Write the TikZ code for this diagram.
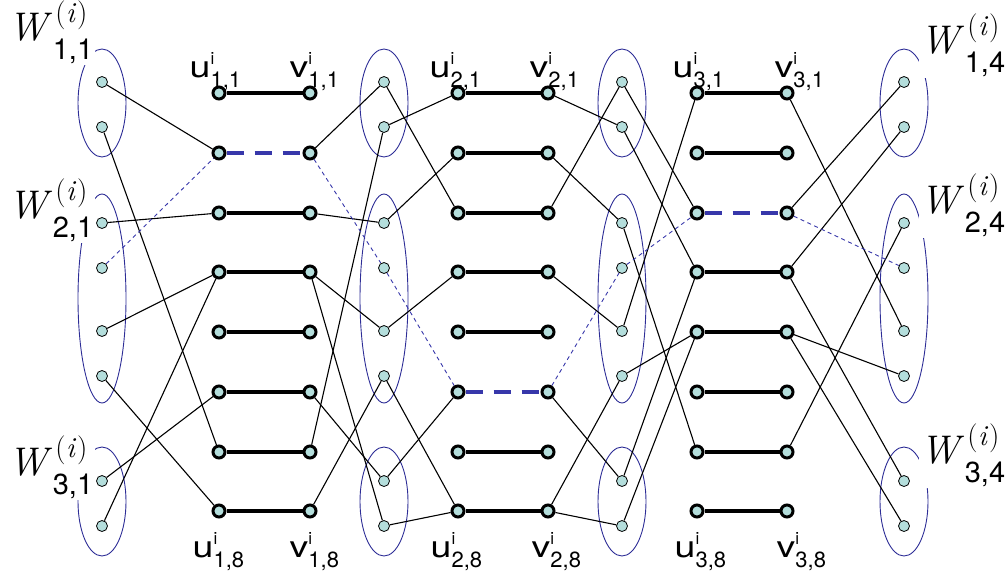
\documentclass[tikz,border=0pt]{standalone}
\usepackage{graphicx}
\usepackage{fontspec}
\newfontfamily\heros{TeX Gyre Heros}
\definecolor{dotfill}{RGB}{180,222,220}
\definecolor{setblue}{RGB}{45,45,150}
\definecolor{pathblue}{RGB}{55,55,170}
\pgfdeclarelayer{back}
\pgfdeclarelayer{labs}
\pgfdeclarelayer{edges}
\pgfsetlayers{back,labs,edges,main}
% label of a pair vertex: letter, superscript i, subscript j,k
\newcommand\uvtext[3]{\heros\fontsize{30}{30}\selectfont\scalebox{1.25}[1]{#1}\rlap{\raisebox{13pt}{\fontsize{17}{17}\selectfont i}}\raisebox{-10pt}{\fontsize{22}{22}\selectfont #2,#3}}
% label of a vertex set W
\newcommand\wtext[2]{\fontsize{40}{40}\selectfont\textit{W}\rlap{\kern2.5pt\raisebox{18pt}{\fontsize{29}{29}\selectfont(\kern0.5pt\textit{i}\kern1pt)}}\raisebox{-19pt}{\heros\fontsize{29}{29}\selectfont #1,#2}}
\tikzset{
  wdot/.style={circle, draw=black, line width=0.8pt, fill=dotfill, minimum size=11pt, inner sep=0pt},
  uvnode/.style={circle, draw=black, line width=3pt, fill=dotfill, minimum size=12pt, inner sep=0pt},
  pairedge/.style={line width=4pt, black},
  pairpath/.style={line width=4.5pt, pathblue, dash pattern=on 17pt off 11pt},
  conn/.style={line width=1.1pt, black},
  pathconn/.style={line width=0.9pt, pathblue, dash pattern=on 4pt off 3.5pt},
  wset/.style={draw=setblue, line width=0.9pt},
  wlab/.style={anchor=base west, fill=white, inner sep=1.5pt},
  uvlab/.style={anchor=base west, inner sep=0pt},
}
\begin{document}
\begin{tikzpicture}[x=1pt,y=-1pt]
\useasboundingbox (0,0) rectangle (1006,579);

% vertex sets W_{1..3,c}
\begin{pgfonlayer}{back}
\foreach \x in {102,384,622,904}{
  \draw[wset] (\x,103) ellipse [x radius=24pt, y radius=54pt];
  \draw[wset] (\x,298.5) ellipse [x radius=24pt, y radius=104.5pt];
  \draw[wset] (\x,501.5) ellipse [x radius=24pt, y radius=54.5pt];
}
\end{pgfonlayer}

% vertices of the sets
\foreach \c/\x in {1/102,2/384,3/622,4/904}
  \foreach \k/\y in {1/82,2/127,3/223,4/268,5/331,6/376,7/481,8/526}
    \node[wdot] (w\c-\k) at (\x,\y) {};

% pair vertices u and v
\foreach \g/\ux/\vx in {1/219/310,2/458/548,3/697/787}
  \foreach \k/\y in {1/93,2/153,3/213,4/272,5/332,6/392,7/452,8/511}{
    \node[uvnode] (u\g-\k) at (\ux,\y) {};
    \node[uvnode] (v\g-\k) at (\vx,\y) {};
  }

\begin{pgfonlayer}{edges}
% pair edges
\foreach \g/\k in {1/1,1/3,1/4,1/5,1/6,1/7,1/8,
                   2/1,2/2,2/3,2/4,2/5,2/7,2/8,
                   3/1,3/2,3/4,3/5,3/6,3/7,3/8}
  \draw[pairedge] (u\g-\k) -- (v\g-\k);
\foreach \g/\k in {1/2,2/6,3/3}
  \draw[pairpath] (u\g-\k) -- (v\g-\k);

% connections: row r of group g meets vertex d of the sets on both sides
\foreach \g/\r/\d in {1/2/1,1/3/3,1/4/5,1/4/8,1/6/7,1/7/2,1/8/6,
                      2/1/2,2/2/3,2/3/1,2/4/5,2/6/7,2/8/6,2/8/8,
                      3/1/5,3/3/1,3/4/2,3/4/7,3/5/6,3/5/8,3/7/3}{
  \pgfmathtruncatemacro\n{\g+1}
  \draw[conn] (w\g-\d) -- (u\g-\r);
  \draw[conn] (v\g-\r) -- (w\n-\d);
}
% the highlighted path
\foreach \g/\r in {1/2,2/6,3/3}{
  \pgfmathtruncatemacro\n{\g+1}
  \draw[pathconn] (w\g-4) -- (u\g-\r);
  \draw[pathconn] (v\g-\r) -- (w\n-4);
}
\end{pgfonlayer}

% set labels
\begin{pgfonlayer}{labs}
\node[wlab] (lw11) at (7,40) {\wtext{1}{1}};
\node[wlab] (lw21) at (7,218) {\wtext{2}{1}};
\node[wlab] (lw31) at (7,475) {\wtext{3}{1}};
\node[wlab] (lw14) at (919,53) {\wtext{1}{4}};
\node[wlab] (lw24) at (919,213) {\wtext{2}{4}};
\node[wlab] (lw34) at (919,463) {\wtext{3}{4}};
\end{pgfonlayer}

% pair labels
\node[uvlab] (lu1a) at (189.5,77) {\uvtext{u}{1}{1}};
\node[uvlab] (lv1a) at (289.5,77) {\uvtext{v}{1}{1}};
\node[uvlab] (lu2a) at (429.5,77) {\uvtext{u}{2}{1}};
\node[uvlab] (lv2a) at (529.5,77) {\uvtext{v}{2}{1}};
\node[uvlab] (lu3a) at (672.5,77) {\uvtext{u}{3}{1}};
\node[uvlab] (lv3a) at (774.5,77) {\uvtext{v}{3}{1}};
\node[uvlab] (lu1b) at (192.5,557) {\uvtext{u}{1}{8}};
\node[uvlab] (lv1b) at (289.5,557) {\uvtext{v}{1}{8}};
\node[uvlab] (lu2b) at (430.5,557) {\uvtext{u}{2}{8}};
\node[uvlab] (lv2b) at (531.5,557) {\uvtext{v}{2}{8}};
\node[uvlab] (lu3b) at (674.5,557) {\uvtext{u}{3}{8}};
\node[uvlab] (lv3b) at (776.5,557) {\uvtext{v}{3}{8}};
\end{tikzpicture}
\end{document}
